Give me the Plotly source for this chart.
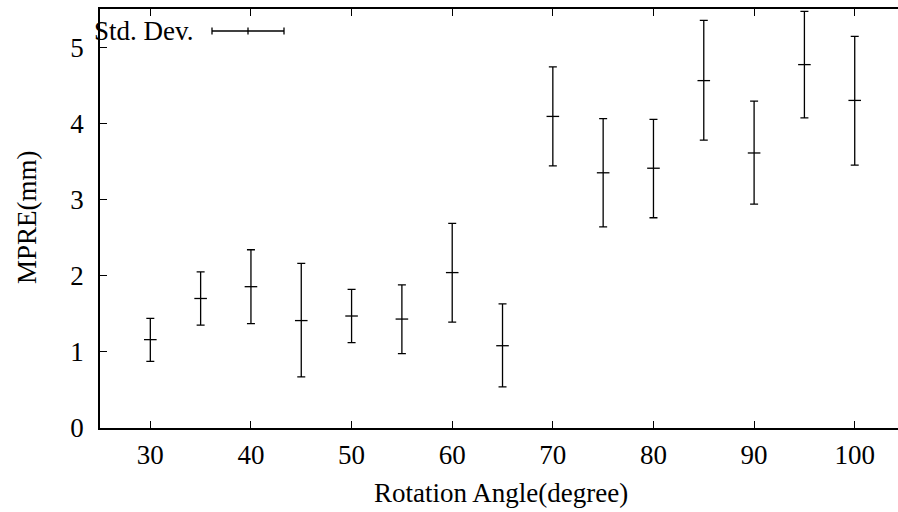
import plotly.graph_objects as go

angles = [30, 35, 40, 45, 50, 55, 60, 65, 70, 75, 80, 85, 90, 95, 100]
mpre_mean = [1.16, 1.70, 1.855, 1.41, 1.47, 1.43, 2.04, 1.08, 4.09, 3.35, 3.41, 4.56, 3.61, 4.77, 4.30]
mpre_upper = [1.44, 2.05, 2.34, 2.16, 1.82, 1.88, 2.685, 1.63, 4.74, 4.06, 4.05, 5.35, 4.29, 5.47, 5.14]
mpre_lower = [0.875, 1.35, 1.37, 0.67, 1.12, 0.975, 1.39, 0.54, 3.44, 2.64, 2.76, 3.78, 2.94, 4.07, 3.45]
x_ticks = [30, 40, 50, 60, 70, 80, 90, 100]
y_ticks = [0, 1, 2, 3, 4, 5]
legend_label = "Std. Dev."
x_title = "Rotation Angle(degree)"
y_title = "MPRE(mm)"

W, H = 898, 512
ML, MR, MT, MB = 100, 0, 9, 84
FONT = "Liberation Serif, Times New Roman, serif"
FS = 27

err_plus = [u - m for u, m in zip(mpre_upper, mpre_mean)]
err_minus = [m - l for m, l in zip(mpre_mean, mpre_lower)]

fig = go.Figure()
fig.add_trace(go.Scatter(
    x=angles, y=mpre_mean, mode="markers",
    marker=dict(symbol="line-ew", size=9, color="black",
                line=dict(color="black", width=1.3)),
    error_y=dict(type="data", symmetric=False, array=err_plus, arrayminus=err_minus,
                 color="black", thickness=1.3, width=4),
    showlegend=False, cliponaxis=False,
))

pw = W - ML - MR
ph = H - MT - MB

def px(x):
    return (x - ML) / pw

def py(y):
    return 1 - (y - MT) / ph

ly = py(31)
shapes = [
    dict(type="line", xref="paper", yref="paper", x0=px(212), x1=px(284), y0=ly, y1=ly,
         line=dict(color="black", width=1.3)),
]
for xx in (212, 248, 284):
    shapes.append(dict(type="line", xref="paper", yref="paper", x0=px(xx), x1=px(xx),
                       y0=py(27.5), y1=py(34.5), line=dict(color="black", width=1.3)))

tfont = dict(family=FONT, size=FS, color="black")
annotations = [
    dict(text=legend_label, xref="paper", yref="paper", x=px(196), y=ly,
         xanchor="right", yanchor="middle", showarrow=False, font=tfont),
    dict(text=x_title, xref="paper", yref="paper", x=px(501), y=py(493),
         xanchor="center", yanchor="middle", showarrow=False, font=tfont),
    dict(text=y_title, xref="paper", yref="paper", x=px(27), y=py(217),
         xanchor="center", yanchor="middle", showarrow=False, textangle=-90,
         font=tfont),
]

fig.update_layout(
    width=W, height=H,
    margin=dict(l=ML, r=MR, t=MT, b=MB, pad=0),
    paper_bgcolor="white", plot_bgcolor="white",
    font=tfont,
    xaxis=dict(range=[25, 104.3], tickvals=x_ticks, ticks="inside", ticklen=7,
               tickwidth=1.2, tickcolor="black", showline=True, linecolor="black",
               linewidth=1.5, mirror="ticks", showgrid=False, zeroline=False,
               ticklabelstandoff=2, tickfont=tfont),
    yaxis=dict(range=[0, 5.5], tickvals=y_ticks, ticks="inside", ticklen=7,
               tickwidth=1.2, tickcolor="black", showline=True, linecolor="black",
               linewidth=1.5, mirror=False, showgrid=False, zeroline=False,
               ticklabelstandoff=9, tickfont=tfont),
    yaxis2=dict(range=[0, 5.5], tickvals=y_ticks, overlaying="y", side="right",
                ticks="inside", ticklen=2, tickwidth=1.2, tickcolor="black",
                showticklabels=False, showline=False, showgrid=False, zeroline=False),
    shapes=shapes,
    annotations=annotations,
)

fig.write_html("out.html", config={"displayModeBar": False},
               post_script="document.body.style.margin='0px';document.body.style.overflow='hidden';")
